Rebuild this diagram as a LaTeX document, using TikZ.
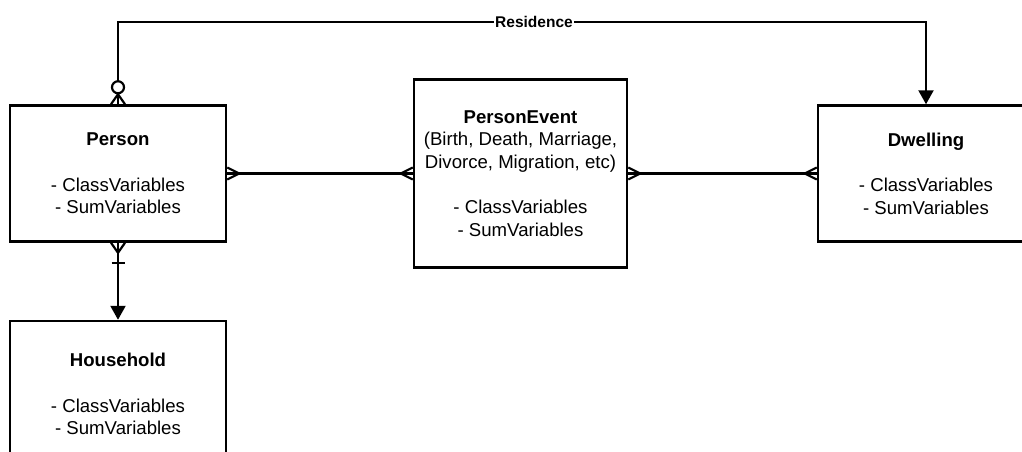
\documentclass[tikz,border=0pt]{standalone}
\usepackage{fontspec}
\setmainfont{Liberation Sans}
\usetikzlibrary{arrows.meta,calc}
\begin{document}
\begin{tikzpicture}[x=1pt,y=-1pt,
  entity/.style={draw, line width=2.5pt, minimum width=216pt, align=center,
    font=\fontsize{18.6}{22.7}\selectfont, inner sep=0pt},
  link/.style={line width=2.2pt},
  crow/.style={line width=2.2pt, line join=miter},
  tip/.style={-{Triangle[width=15pt,length=14pt]}},
  rolename/.style={font=\fontsize{15.5}{18}\selectfont\bfseries, fill=white, inner sep=1.5pt}
]
\useasboundingbox (0,0) rectangle (1022,451);
\clip (0,0) rectangle (1022,451);

% entities
\node[entity, minimum height=136pt] (person) at (118,173.5)
  {\textbf{Person}\\[22.7pt]- ClassVariables\\- SumVariables};
\node[entity, minimum width=213pt, minimum height=188pt] (event) at (520.5,173.5)
  {\textbf{PersonEvent}\\(Birth, Death, Marriage,\\Divorce, Migration, etc)\\[22.7pt]- ClassVariables\\- SumVariables};
\node[entity, minimum height=136pt] (dwelling) at (926,173.5)
  {\textbf{Dwelling}\\[22.7pt]- ClassVariables\\- SumVariables};
\node[entity, minimum height=146pt] (household) at (118,394)
  {\textbf{Household}\\[22.7pt]- ClassVariables\\- SumVariables};

% residence relationship
\node[rolename] (res) at (534,22) {Residence};
\draw[link] (person.north) |- (res.west);
\draw[link, tip] (res.east) -| (dwelling.north);
\draw[crow] ($(person.north)+(-7,0)$) -- ($(person.north)+(0,-10)$) -- ($(person.north)+(7,0)$);
\draw[crow, fill=white] ($(person.north)+(0,-17)$) circle (6);

% person -- event -- dwelling
\draw[link] (person.east) -- (event.west);
\draw[link] (event.east) -- (dwelling.west);
\draw[crow] ($(person.east)+(0,-6)$) -- ($(person.east)+(12,0)$) -- ($(person.east)+(0,6)$);
\draw[crow] ($(event.west)+(0,-6)$) -- ($(event.west)+(-12,0)$) -- ($(event.west)+(0,6)$);
\draw[crow] ($(event.east)+(0,-6)$) -- ($(event.east)+(12,0)$) -- ($(event.east)+(0,6)$);
\draw[crow] ($(dwelling.west)+(0,-6)$) -- ($(dwelling.west)+(-12,0)$) -- ($(dwelling.west)+(0,6)$);

% person -- household
\draw[link, tip] (person.south) -- (household.north);
\draw[crow] ($(person.south)+(-7,0)$) -- ($(person.south)+(0,10)$) -- ($(person.south)+(7,0)$);
\draw[crow] ($(person.south)+(-6.5,20)$) -- ($(person.south)+(6.5,20)$);
\end{tikzpicture}
\end{document}
